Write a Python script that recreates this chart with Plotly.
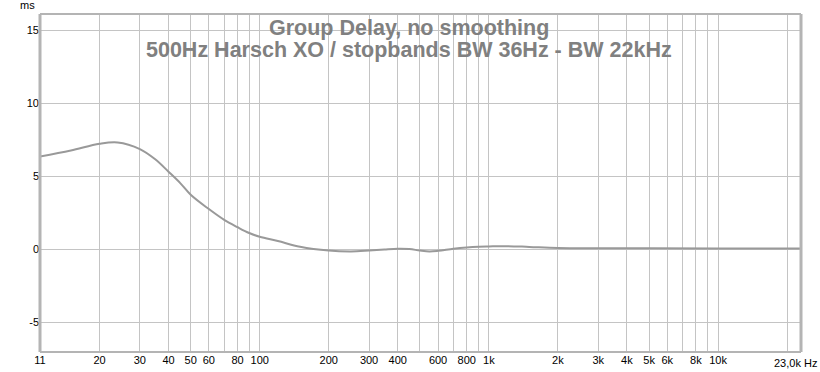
import math
import plotly.graph_objects as go

# Data
freq_hz = [11, 15, 20, 24, 30, 35, 40, 45, 50, 60, 70, 80, 90, 100, 120, 150,
           200, 250, 300, 350, 400, 450, 500, 550, 600, 700, 800, 900, 1000,
           1200, 1500, 2000, 3000, 5000, 10000, 23000]
group_delay_ms = [6.34, 6.75, 7.21, 7.3, 6.85, 6.15, 5.3, 4.52, 3.72, 2.74, 2.0,
                  1.5, 1.1, 0.84, 0.55, 0.16, -0.1, -0.16, -0.1, -0.03, 0.02,
                  0.0, -0.1, -0.16, -0.12, 0.02, 0.11, 0.16, 0.18, 0.2, 0.15,
                  0.08, 0.06, 0.05, 0.04, 0.04]

x_grid = [11, 20, 30, 40, 50, 60, 70, 80, 90, 100, 200, 300, 400, 500, 600,
          700, 800, 900, 1000, 2000, 3000, 4000, 5000, 6000, 7000, 8000,
          9000, 10000, 20000]
x_labels = ["11", "20", "30", "40", "50", "60", "", "80", "", "100", "200",
            "300", "400", "", "600", "", "800", "", "1k", "2k", "3k", "4k",
            "5k", "6k", "", "8k", "", "10k", ""]
y_ticks = [-5, 0, 5, 10, 15]
y_labels = ["-5", "0", "5", "10", "15"]
title_lines = ["Group Delay, no smoothing",
               "500Hz Harsch XO / stopbands BW 36Hz - BW 22kHz"]

FONT = "Liberation Sans, Arial, sans-serif"

fig = go.Figure()
fig.add_trace(go.Scatter(
    x=freq_hz, y=group_delay_ms, mode="lines",
    line=dict(color="#999999", width=2, shape="spline", smoothing=1.0),
    hoverinfo="skip", showlegend=False))

fig.update_layout(
    width=820, height=372,
    margin=dict(l=40, r=19, t=14, b=20, autoexpand=False),
    paper_bgcolor="white", plot_bgcolor="white",
    font=dict(family=FONT, size=11, color="#000000"),
    xaxis=dict(type="log", range=[math.log10(11), math.log10(23000)],
               tickvals=x_grid, ticktext=x_labels, showgrid=True,
               gridcolor="#c4c4c4", gridwidth=1, zeroline=False,
               showline=False, ticks="", tickfont=dict(size=11),
               automargin=False, fixedrange=True),
    yaxis=dict(range=[-7.05, 16.1], tickvals=y_ticks, ticktext=y_labels,
               showgrid=True, gridcolor="#c4c4c4", gridwidth=1,
               zeroline=False, showline=False, ticks="",
               tickfont=dict(size=11), automargin=False, fixedrange=True),
    shapes=[
        dict(type="line", xref="paper", yref="paper", x0=0, x1=0, y0=0, y1=1,
             line=dict(color="#b4b4b4", width=3)),
        dict(type="line", xref="paper", yref="paper", x0=0, x1=1, y0=1, y1=1,
             line=dict(color="#b4b4b4", width=2)),
        dict(type="line", xref="paper", yref="paper", x0=1, x1=1, y0=0, y1=1,
             line=dict(color="#b4b4b4", width=3)),
        dict(type="line", xref="paper", yref="paper", x0=0, x1=1, y0=0, y1=0,
             line=dict(color="#b4b4b4", width=2)),
    ],
    annotations=[
        dict(text=title_lines[0], xref="paper", yref="paper", x=0.485,
             y=0.9586, xanchor="center", yanchor="middle", showarrow=False,
             font=dict(family=FONT, size=21.5, color="#808080", weight="bold")),
        dict(text=title_lines[1], xref="paper", yref="paper", x=0.485,
             y=0.8935, xanchor="center", yanchor="middle", showarrow=False,
             font=dict(family=FONT, size=21.5, color="#808080", weight="bold")),
        dict(text="ms", xref="paper", yref="paper", x=-0.0158, y=1.0266,
             xanchor="center", yanchor="middle", showarrow=False,
             font=dict(family=FONT, size=11, color="#000000")),
        dict(text="23,0k Hz", xref="paper", yref="paper", x=1.0237,
             y=-0.0325, xanchor="right", yanchor="middle", showarrow=False,
             font=dict(family=FONT, size=11, color="#000000")),
    ],
)

fig.write_html("out.html",
               config={"displayModeBar": False},
               post_script="document.body.style.margin='0px';"
                           "document.body.style.padding='0px';")
